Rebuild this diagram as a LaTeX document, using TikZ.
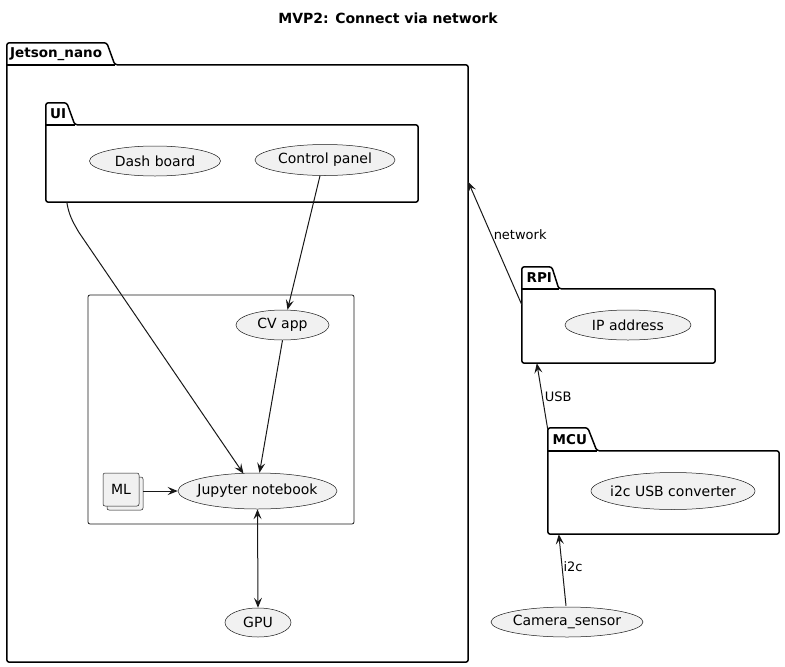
\documentclass[tikz,border=0pt]{standalone}
\usepackage{fontspec}
\setmainfont{DejaVu Sans}
\usetikzlibrary{shapes.geometric,arrows.meta,calc,shadows}
\definecolor{ucfill}{HTML}{F1F1F1}
\definecolor{ln}{HTML}{181818}
\newcommand\pkgoutline[4]{%
  \draw[pkgline] (#1.north west) -- ++(0,-#3) -- ++(#2,0) -- ($(#1.north west)+(#2+#4,0)$) -- (#1.north east) -- (#1.south east) -- (#1.south west) -- cycle;
  \draw[pkgline] (#1.north west) -- ++(#2+#4,0);
}
\newcommand\zw[1]{\makebox[0pt]{#1}}
\begin{document}
\begin{tikzpicture}[x=1pt,y=-1pt,
  uc/.style={ellipse, draw=ln, line width=0.5pt, fill=ucfill, inner sep=0pt, font=\fontsize{14}{16}\selectfont},
  pkgbody/.style={rectangle, draw=none, inner sep=0pt},
  pkgline/.style={draw=black, line width=1.5pt, rounded corners=2.5pt},
  pkglbl/.style={inner sep=0pt, font=\bfseries\fontsize{13.5}{16}\selectfont},
  arr/.style={draw=ln, line width=1pt, -{Stealth[length=10pt,width=8pt,inset=4pt]}},
  darr/.style={draw=ln, line width=1pt, {Stealth[length=10pt,width=8pt,inset=4pt]}-{Stealth[length=10pt,width=8pt,inset=4pt]}},
  elbl/.style={inner sep=0pt, font=\fontsize{13}{15}\selectfont},
  mlbox/.style={rectangle, draw=ln, line width=0.5pt, fill=ucfill, rounded corners=2pt, minimum width=36pt, minimum height=33pt, inner sep=0pt, font=\fontsize{14}{16}\selectfont,
    copy shadow={shadow xshift=4pt, shadow yshift=-4pt, draw=ln, line width=0.5pt, fill=ucfill}}
]
\useasboundingbox (0,0) rectangle (785,667);

% title
\node[font=\bfseries\fontsize{14}{16}\selectfont, inner sep=0pt] (title) at (388,18) {MVP2: Connect via network};

% Jetson_nano package
\node[pkgbody, minimum width=461pt, minimum height=597pt] (jet) at (237.5,363.5) {};
\pkgoutline{jet}{100}{22}{8}
\node[pkglbl, anchor=west] (jetl) at (10,54) {Jetson\_nano};

% UI package
\node[pkgbody, minimum width=372pt, minimum height=77pt] (ui) at (232,163.5) {};
\pkgoutline{ui}{21}{22}{8}
\node[pkglbl, anchor=west] (uil) at (50,113.5) {UI};

\node[uc, minimum width=131pt, minimum height=30pt] (dash) at (155,161) {\zw{Dash board}};
\node[uc, minimum width=140pt, minimum height=31pt] (cp) at (325,160) {\zw{Control panel}};

% inner rectangle
\node[rectangle, draw=ln, line width=0.8pt, rounded corners=2pt, minimum width=266pt, minimum height=229pt, inner sep=0pt] (inner) at (221,409.5) {};

\node[uc, minimum width=93pt, minimum height=30pt] (cv) at (282.5,325) {\zw{CV app}};
\node[uc, minimum width=159pt, minimum height=36pt] (jup) at (257.5,491) {\zw{Jupyter notebook}};
\node[mlbox] (ml) at (121,489.5) {ML};
\node[uc, minimum width=66pt, minimum height=29pt] (gpu) at (258,622.5) {\zw{GPU}};

% RPI package
\node[pkgbody, minimum width=193pt, minimum height=74pt] (rpi) at (618.5,326) {};
\pkgoutline{rpi}{30}{22}{7}
\node[pkglbl, anchor=west] (rpil) at (526.5,277.5) {RPI};
\node[uc, minimum width=126pt, minimum height=30pt] (ip) at (628,325) {\zw{IP address}};

% MCU package
\node[pkgbody, minimum width=231pt, minimum height=83pt] (mcu) at (663.5,492.5) {};
\pkgoutline{mcu}{40}{23}{9}
\node[pkglbl, anchor=west] (mcul) at (552.5,439.5) {MCU};
\node[uc, minimum width=164pt, minimum height=37pt] (conv) at (673,491) {\zw{i2c USB converter}};

\node[uc, minimum width=152pt, minimum height=30pt] (cam) at (567,622) {\zw{Camera\_sensor}};

% connectors
\draw[arr] ($(ui.south west)+(21,0)$) .. controls ($(ui.south west)+(23,12)$) and ($(ui.south west)+(26,18)$) .. ($(ui.south west)+(33,30)$) -- ($(jup.north)+(-14,1)$);
\draw[arr] ($(cp.south)+(-5,0)$) -- ($(cv.north)+(5,0)$);
\draw[arr] (cv.south) -- ($(jup.north)+(2,0)$);
\draw[arr] ($(ml.east)+(4,1.5)$) -- (jup.west);
\draw[darr] (jup.south) -- (gpu.north);

\draw[arr] ($(rpi.north west)+(0,16)$) -- node[elbl, anchor=west, pos=0.57, xshift=2pt] (netl) {network} ($(jet.north east)+(0,117)$);
\draw[arr] ($(mcu.north west)+(0,-21)$) -- node[elbl, anchor=west, pos=0.5, xshift=2pt] (usbl) {USB} ($(rpi.south west)+(15,0)$);
\draw[arr] ($(cam.north)+(-1,-1)$) -- node[elbl, anchor=west, pos=0.55, xshift=1pt] (i2cl) {i2c} ($(mcu.south west)+(11,0)$);
\end{tikzpicture}
\end{document}
